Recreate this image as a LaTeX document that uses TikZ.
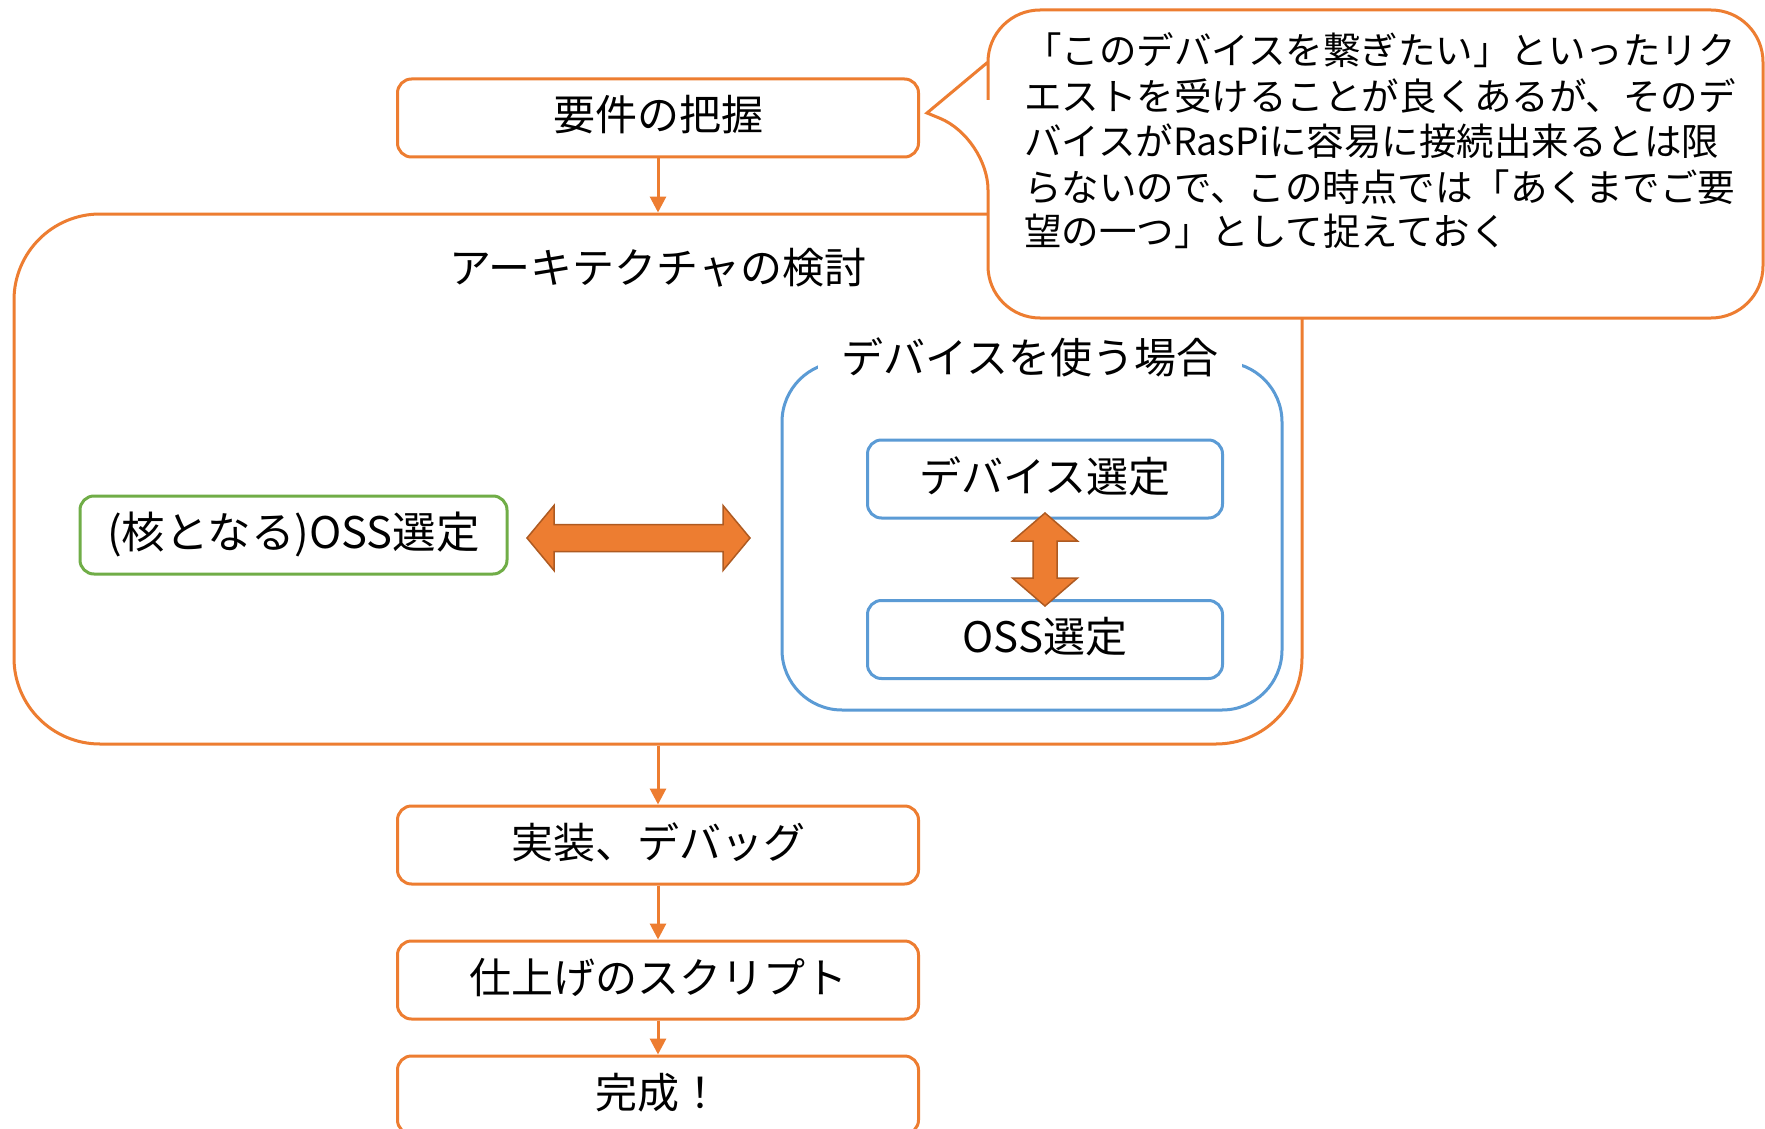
\documentclass[tikz,border=0pt]{standalone}
\usepackage{fontspec}
\setmainfont{Noto Sans CJK JP}
\usetikzlibrary{arrows.meta}
\definecolor{org}{HTML}{ED7D31}
\definecolor{orgdark}{HTML}{AE5A21}
\definecolor{blu}{HTML}{5B9BD5}
\definecolor{grn}{HTML}{70AD47}
\begin{document}
\begin{tikzpicture}[x=1pt,y=-1pt,
  txt/.style={font=\fontsize{42}{50}\selectfont, text height=35pt, text depth=9pt, inner sep=0pt},
  ctxt/.style={font=\fontsize{37.5}{45}\selectfont, inner sep=0pt, anchor=base west},
  obox/.style={txt, draw=org, line width=3pt, rounded corners=14pt, minimum width=521pt, minimum height=78pt},
  bbox/.style={txt, draw=blu, line width=3pt, rounded corners=14pt, minimum width=355pt, minimum height=78pt},
  gbox/.style={txt, draw=grn, line width=3pt, rounded corners=14pt, minimum width=427pt, minimum height=78pt},
  flow/.style={draw=org, line width=3pt, -{Triangle[width=16pt,length=16pt]}},
  blockarrow/.style={fill=org, draw=orgdark, line width=1.5pt, line join=miter}]
\useasboundingbox (0,0) rectangle (1765,1129);
\fill[white] (0,0) rectangle (1765,1129);

% big architecture box
\node[draw=org, line width=3pt, rounded corners=86pt, minimum width=1288pt, minimum height=530pt, inner sep=0pt] (arch) at (658,479) {};
\node[txt] (archt) at (658,270) {アーキテクチャの検討};

% flow boxes
\node[obox] (req) at (658,118) {要件の把握};
\node[obox] (impl) at (658,845) {実装、デバッグ};
\node[obox] (fin) at (658,980) {仕上げのスクリプト};
\node[obox] (done) at (658,1095) {完成！};

\draw[flow] (req.south) -- (arch.north);
\draw[flow] (arch.south) -- (impl.north);
\draw[flow] (impl.south) -- (fin.north);
\draw[flow] (fin.south) -- (done.north);

% core OSS
\node[gbox, font=\fontsize{43.5}{50}\selectfont] (core) at (293.5,535) {(核となる)OSS選定};

% device group
\node[draw=blu, line width=3pt, rounded corners=60pt, minimum width=500pt, minimum height=348pt, inner sep=0pt] (grp) at (1032,536) {};
\node[txt, fill=white, inner xsep=24pt] (grpt) at (1030,360) {デバイスを使う場合};
\node[bbox] (dev) at (1045,479) {デバイス選定};
\node[bbox] (oss) at (1045,639.5) {OSS選定};

% block arrows
\draw[blockarrow] (527,538) -- (554,505.5) -- (554,524.5) -- (723,524.5) -- (723,505.5) -- (750,538)
  -- (723,570.5) -- (723,551.5) -- (554,551.5) -- (554,570.5) -- cycle;
\draw[blockarrow] (1045,513) -- (1077.5,541) -- (1057,541) -- (1057,578) -- (1077.5,578) -- (1045,606)
  -- (1012.5,578) -- (1033,578) -- (1033,541) -- (1012.5,541) -- cycle;

% callout
\coordinate (tip) at (927,113);
\draw[draw=org, line width=3pt, fill=white, rounded corners=52pt]
  (988,100) -- (988,10) -- (1763,10) -- (1763,318) -- (988,318) -- (988,138)
  [sharp corners] -- (tip) -- (988,62) -- (988,100);
\node[ctxt] (c1) at (1024,65) {「このデバイスを繋ぎたい」といったリク};
\node[ctxt] (c2) at (1024,111) {エストを受けることが良くあるが、そのデ};
\node[ctxt] (c3) at (1024,156) {バイスがRasPiに容易に接続出来るとは限};
\node[ctxt] (c4) at (1024,201) {らないので、この時点では「あくまでご要};
\node[ctxt] (c5) at (1024,245) {望の一つ」として捉えておく};
\end{tikzpicture}
\end{document}
